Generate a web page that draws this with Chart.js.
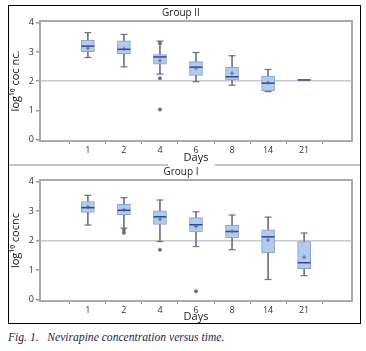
<!DOCTYPE html>
<html>
<head>
<meta charset="utf-8">
<script src="https://cdn.jsdelivr.net/npm/chart.js@4.4.1/dist/chart.umd.min.js"></script>
<style>
  html, body { margin: 0; padding: 0; background: #fff; }
  body { width: 366px; height: 351px; position: relative; overflow: hidden; }
  #frame { position: absolute; left: 8px; top: 5px; width: 353px; height: 319px; box-sizing: border-box; border: 1px solid #000; }
  .sep { position: absolute; top: 164px; height: 2px; background: #c4c4c4; }
  canvas { position: absolute; }
  #caption { position: absolute; left: 8px; top: 331px; font-family: 'Liberation Serif', serif; font-style: italic; font-size: 11.6px; color: #26264e; white-space: pre; }
</style>
</head>
<body>
<div id="frame"></div>
<div class="sep" style="left:9px; width:159px;"></div>
<div class="sep" style="left:215px; width:145px;"></div>
<canvas id="c2" width="351" height="158" style="left:9px; top:6px;"></canvas>
<canvas id="c1" width="351" height="157" style="left:9px; top:166px;"></canvas>
<div id="caption">Fig. 1.   Nevirapine concentration versus time.</div>
<script>
// ---- data ----
const days = ['1', '2', '4', '6', '8', '14', '21'];
const yTicks = [0, 1, 2, 3, 4];

// Group II (top panel)
const g2Min  = [2.81, 2.49, 2.24, 1.98, 1.86, 1.64, 2.04];
const g2Q1   = [3.01, 2.93, 2.58, 2.20, 2.04, 1.67, 2.03];
const g2Med  = [3.20, 3.09, 2.83, 2.48, 2.15, 1.93, 2.04];
const g2Q3   = [3.41, 3.38, 2.91, 2.67, 2.47, 2.17, 2.05];
const g2Max  = [3.66, 3.60, 3.37, 2.98, 2.87, 2.40, 2.04];
const g2Mean = [3.13, 3.11, 2.70, 2.45, 2.27, 1.95, null];
const g2OutDay = [2, 2, 2];
const g2OutVal = [3.30, 2.10, 1.03];

// Group I (bottom panel)
const g1Min  = [2.53, 2.43, 1.97, 1.80, 1.69, 0.68, 0.81];
const g1Q1   = [2.96, 2.88, 2.55, 2.30, 2.09, 1.59, 1.05];
const g1Med  = [3.12, 3.03, 2.81, 2.54, 2.31, 2.13, 1.25];
const g1Q3   = [3.33, 3.23, 3.01, 2.78, 2.53, 2.37, 1.97];
const g1Max  = [3.54, 3.46, 3.38, 2.98, 2.87, 2.80, 2.26];
const g1Mean = [3.15, 3.05, 2.73, 2.48, 2.32, 2.02, 1.44];
const g1OutDay = [1, 1, 2, 3];
const g1OutVal = [2.37, 2.27, 1.69, 0.28];

// ---- styling ----
const BOX_FILL = '#b2cbea';
const BOX_EDGE = '#859fd0';
const WHISK = '#6f7090';
const MED = '#34468f';
const AXIS = '#a9a9a9';

Chart.defaults.font.family = "'Open Sans', 'Noto Sans', sans-serif";
Chart.defaults.color = '#333';

const framePlugin = {
  id: 'frame',
  beforeDatasetsDraw(chart) {
    const a = chart.chartArea, ctx = chart.ctx;
    ctx.save();
    ctx.strokeStyle = AXIS;
    ctx.lineWidth = 2;
    ctx.strokeRect(a.left, a.top, a.right - a.left, a.bottom - a.top);
    ctx.restore();
  }
};

function buildDatasets(mn, q1, med, q3, mx, mean, outDay, outVal) {
  const whiskers = [], boxes = [], caps = [], medians = [], means = [], outs = [];
  days.forEach((d, i) => {
    if (mx[i] - mn[i] > 0.02) {
      whiskers.push({ x: i, y: [mn[i], mx[i]] });
      caps.push({ x: i, y: mn[i] }, { x: i, y: mx[i] });
    }
    boxes.push({ x: i, y: [q1[i], q3[i]] });
    medians.push({ x: i, y: med[i] });
    if (mean[i] !== null) means.push({ x: i, y: mean[i] });
  });
  outDay.forEach((d, k) => outs.push({ x: d, y: outVal[k] }));
  return [
    { type: 'bar', data: whiskers, barThickness: 1, backgroundColor: WHISK, grouped: false, order: 6 },
    { type: 'bar', data: boxes, barThickness: 13, backgroundColor: BOX_FILL, borderColor: BOX_EDGE, borderWidth: 1, borderSkipped: false, grouped: false, order: 5 },
    { type: 'scatter', data: caps, pointStyle: 'line', radius: 3.5, borderColor: WHISK, borderWidth: 1.2, order: 4 },
    { type: 'scatter', data: medians, pointStyle: 'line', radius: 6.5, borderColor: MED, borderWidth: 1.5, order: 3 },
    { type: 'scatter', data: means, pointStyle: 'cross', radius: 2, borderColor: '#5566a0', borderWidth: 1, order: 2 },
    { type: 'scatter', data: outs, pointStyle: 'circle', radius: 1.7, backgroundColor: '#6a6a82', borderColor: '#6a6a82', borderWidth: 0.5, order: 1 }
  ];
}

function makeChart(id, title, yTitle, datasets, xHeight, titlePad) {
  return new Chart(document.getElementById(id), {
    type: 'bar',
    data: { datasets },
    options: {
      responsive: false,
      animation: false,
      devicePixelRatio: 1,
      layout: { padding: { left: 0, right: 7, top: 0, bottom: 0 } },
      plugins: {
        legend: { display: false },
        tooltip: { enabled: false },
        title: { display: true, text: title, color: '#222', font: { size: 10, weight: 'normal' }, padding: titlePad }
      },
      scales: {
        x: {
          type: 'linear',
          min: -0.71, max: 6.71,
          afterBuildTicks: s => { s.ticks = days.map((d, i) => ({ value: i })); },
          afterFit: s => { s.height = xHeight; },
          ticks: { callback: (v) => days[v], font: { size: 9 }, color: '#333', padding: 1, maxRotation: 0, autoSkip: false },
          grid: { drawOnChartArea: false, tickLength: 3, tickColor: '#999' },
          border: { display: true, color: AXIS, width: 2 },
          title: { display: true, text: 'Days', font: { size: 11 }, color: '#222', padding: { top: 0, bottom: 0 } }
        },
        y: {
          type: 'linear',
          min: -0.05, max: 4.06,
          afterBuildTicks: s => { s.ticks = yTicks.map(v => ({ value: v })); },
          afterFit: s => { s.width = 31; },
          ticks: { font: { size: 9 }, color: '#333', padding: 2 },
          grid: {
            color: c => (c.tick && c.tick.value === 2) ? '#c9c9c9' : 'rgba(0,0,0,0)',
            lineWidth: 1.5, tickColor: '#999', tickLength: 4
          },
          border: { display: true, color: AXIS, width: 2 },
          title: { display: true, text: yTitle, font: { size: 11 }, color: '#111', padding: { top: 0, bottom: 1 } }
        }
      }
    },
    plugins: [framePlugin]
  });
}

makeChart('c2', 'Group II', 'log\u00B9\u2070 coc nc.',
  buildDatasets(g2Min, g2Q1, g2Med, g2Q3, g2Max, g2Mean, g2OutDay, g2OutVal), 23, { top: 1, bottom: 2 });
makeChart('c1', 'Group I', 'log\u00B9\u2070 cocnc',
  buildDatasets(g1Min, g1Q1, g1Med, g1Q3, g1Max, g1Mean, g1OutDay, g1OutVal), 22, { top: 0, bottom: 2 });
</script>
</body>
</html>
